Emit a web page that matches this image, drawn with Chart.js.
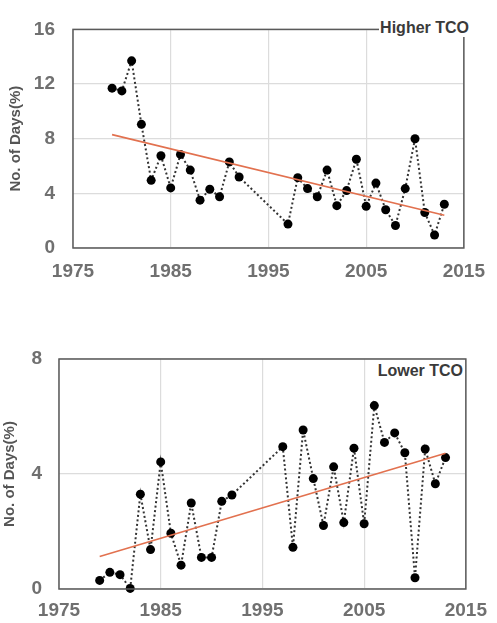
<!DOCTYPE html>
<html>
<head>
<meta charset="utf-8">
<script src="https://cdn.jsdelivr.net/npm/chart.js@4"></script>
<style>
  body { margin: 0; background: #fff; }
  #wrap { position: relative; width: 497px; height: 623px; }
  .box { position: absolute; left: 0; width: 497px; }
  .panel-label {
    position: absolute;
    font: bold 16px "Liberation Sans", Arial, sans-serif;
    color: #3a3a3a;
    background: #fff;
    padding: 0 1px;
  }
</style>
</head>
<body>
<div id="wrap">
  <div class="box" style="top:0;height:290px"><canvas id="higher" width="497" height="290"></canvas></div>
  <div class="box" style="top:330px;height:293px"><canvas id="lower" width="497" height="293"></canvas></div>
  <div class="panel-label" style="right:27px;top:19px">Higher TCO</div>
  <div class="panel-label" style="right:33px;top:362px">Lower TCO</div>
</div>
<script>
// years with data (no data for 1993-1996)
var years = [1979, 1980, 1981, 1982, 1983, 1984, 1985, 1986, 1987, 1988, 1989, 1990, 1991, 1992,
  1997, 1998, 1999, 2000, 2001, 2002, 2003, 2004, 2005, 2006, 2007, 2008, 2009, 2010, 2011, 2012, 2013];

var higherTCO = [11.7, 11.5, 13.7, 9.05, 4.95, 6.75, 4.4, 6.85, 5.7, 3.5, 4.3, 3.75, 6.3, 5.2,
  1.75, 5.15, 4.35, 3.75, 5.7, 3.1, 4.2, 6.5, 3.05, 4.75, 2.8, 1.65, 4.35, 8.0, 2.6, 0.95, 3.2];

var lowerTCO = [0.3, 0.58, 0.5, 0.02, 3.3, 1.37, 4.42, 1.94, 0.83, 2.99, 1.1, 1.1, 3.05, 3.27,
  4.95, 1.45, 5.53, 3.84, 2.21, 4.25, 2.31, 4.9, 2.27, 6.38, 5.1, 5.43, 4.74, 0.39, 4.87, 3.66, 4.57];

// trend line ends
var trendYears = [1979, 2013];
var higherTrend = [8.3, 2.4];
var lowerTrend = [1.13, 4.72];

var xTicks = [1975, 1985, 1995, 2005, 2015];

var tickColor = "#707070";
var fontName = "'Liberation Sans', Arial, sans-serif";

function toPoints(xs, ys) {
  var pts = [];
  for (var i = 0; i < xs.length; i++) {
    pts.push({ x: xs[i], y: ys[i] });
  }
  return pts;
}

// draws the dark frame round the plot area
var frame = {
  id: "frame",
  afterDraw: function(chart) {
    var a = chart.chartArea;
    var ctx = chart.ctx;
    ctx.save();
    ctx.strokeStyle = "#5a5a5a";
    ctx.lineWidth = 1.5;
    ctx.strokeRect(a.left, a.top, a.right - a.left, a.bottom - a.top);
    ctx.restore();
  }
};

function makeChart(id, values, trend, yMax, opts) {
  var ctx = document.getElementById(id);
  return new Chart(ctx, {
    type: "scatter",
    data: {
      datasets: [
        {
          data: toPoints(years, values),
          showLine: true,
          borderColor: "#333",
          borderWidth: 2,
          borderDash: [2, 2.5],
          pointRadius: 4.5,
          pointBackgroundColor: "#000",
          pointBorderWidth: 0,
          clip: false,
          order: 2
        },
        {
          data: toPoints(trendYears, trend),
          showLine: true,
          borderColor: "#e2714f",
          borderWidth: 1.6,
          pointRadius: 0,
          order: 1
        }
      ]
    },
    options: {
      responsive: false,
      animation: false,
      layout: { padding: { top: opts.top, right: opts.right, left: 0, bottom: 0 } },
      plugins: { legend: { display: false }, tooltip: { enabled: false } },
      scales: {
        x: {
          type: "linear",
          min: 1975,
          max: 2015,
          afterBuildTicks: function(axis) {
            axis.ticks = xTicks.map(function(v) { return { value: v }; });
          },
          afterFit: function(axis) { axis.height = opts.xHeight; },
          grid: { color: "#dcdcdc", lineWidth: 1.2, drawTicks: false },
          border: { display: false },
          ticks: {
            padding: opts.xPad,
            color: tickColor,
            maxRotation: 0,
            font: { family: fontName, size: 19, weight: "bold" },
            callback: function(v) { return String(v); }
          }
        },
        y: {
          min: 0,
          max: yMax,
          afterFit: function(axis) { axis.width = opts.yWidth; },
          grid: { color: "#dcdcdc", lineWidth: 1.2, drawTicks: false },
          border: { display: false },
          ticks: {
            stepSize: 4,
            padding: opts.yPad,
            color: tickColor,
            font: { family: fontName, size: 19, weight: "bold" }
          },
          title: {
            display: true,
            text: "No. of Days(%)",
            color: "#555",
            padding: { top: opts.titlePad, bottom: 0 },
            font: { family: fontName, size: 15, weight: "bold" }
          }
        }
      }
    },
    plugins: [frame]
  });
}

makeChart("higher", higherTCO, higherTrend, 16, {
  top: 17, right: 25, xHeight: 42, xPad: 12, yWidth: 73, yPad: 18, titlePad: 7
});
makeChart("lower", lowerTCO, lowerTrend, 8, {
  top: 29, right: 29, xHeight: 34, xPad: 10, yWidth: 59, yPad: 17, titlePad: 1
});
</script>
</body>
</html>
